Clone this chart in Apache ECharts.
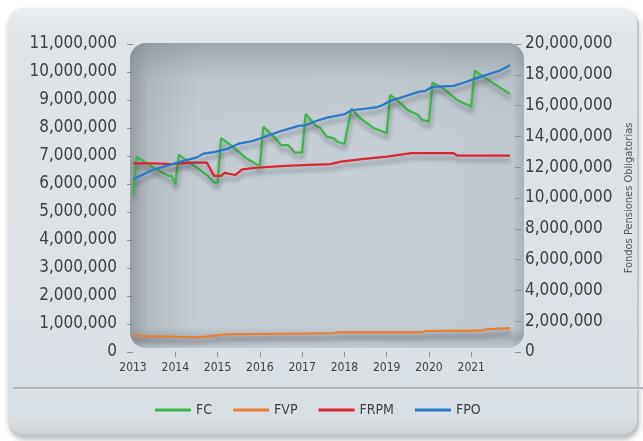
<!DOCTYPE html>
<html>
<head>
<meta charset="utf-8">
<script src="https://cdn.jsdelivr.net/npm/echarts@6/dist/echarts.min.js"></script>
<style>
html,body{margin:0;padding:0;background:#ffffff;}
#chart{width:643px;height:441px;}
</style>
</head>
<body>
<div id="chart"></div>
<script>
// Month index 0 = Jan 2013 ... 107 = Dec 2021
var yearLabels = ['2013','2014','2015','2016','2017','2018','2019','2020','2021'];
var leftTicks = [0,1000000,2000000,3000000,4000000,5000000,6000000,7000000,8000000,9000000,10000000,11000000];
var rightTicks = [0,2000000,4000000,6000000,8000000,10000000,12000000,14000000,16000000,18000000,20000000];
var seriesNames = ['FC','FVP','FRPM','FPO'];

var fcMonths = [0,1,6,10,11,12,13,17,21,23,24,25,28,32,36,37,40,42,44,46,48,49,52,53,55,57,58,60,62,64,68,72,73,76,78,81,82,84,85,88,92,96,97,100,103,107];
var fcValues = [5610000,6980000,6570000,6290000,6290000,6000000,7040000,6680000,6320000,6050000,6050000,7640000,7360000,6930000,6640000,8040000,7690000,7390000,7390000,7120000,7120000,8500000,8070000,8020000,7690000,7630000,7510000,7430000,8700000,8400000,8020000,7810000,9180000,8880000,8640000,8460000,8290000,8230000,9620000,9420000,9000000,8760000,10050000,9780000,9540000,9210000];

var fvpMonths = [0,19,26,57,58,82,83,99,100,107];
var fvpValues = [580000,520000,630000,670000,700000,700000,750000,760000,810000,850000];

var frpmMonths = [0,6,11,16,21,23,25,26,29,31,35,42,50,56,59,65,72,79,91,92,107];
var frpmValues = [6740000,6740000,6710000,6760000,6760000,6290000,6290000,6400000,6320000,6520000,6580000,6640000,6680000,6710000,6800000,6890000,6980000,7100000,7100000,7010000,7010000];

var fpoMonths = [0,6,10,15,18,20,23,27,30,34,38,42,47,49,52,55,60,62,69,71,73,77,81,83,85,91,94,99,104,107];
var fpoValues = [11210000,11860000,12120000,12460000,12620000,12880000,12980000,13210000,13530000,13700000,14030000,14350000,14680000,14720000,15000000,15220000,15440000,15700000,15880000,16050000,16310000,16590000,16890000,16960000,17220000,17280000,17500000,17900000,18260000,18630000];

function zip(ms, vs){ return ms.map(function(m,i){ return [m, vs[i]]; }); }

var FONT = "'Liberation Sans Narrow','DejaVu Sans Condensed','Liberation Sans',sans-serif";
var TXT = '#404040';
var colors = ['#3fb44b','#ec7d33','#da2630','#2a78c6'];

var chart = echarts.init(document.getElementById('chart'), null, {renderer:'canvas'});

function fmt(v){ return Number(v).toLocaleString('en-US'); }

var yearTickValues = yearLabels.map(function(y,i){ return i*12; });

var lineShadow = {shadowColor:'rgba(55,62,70,0.45)', shadowBlur:4, shadowOffsetX:1, shadowOffsetY:5};

var option = {
  animation:false,
  backgroundColor:'#ffffff',
  textStyle:{fontFamily:FONT},
  graphic:[
    {type:'rect', z:-20, shape:{x:9,y:10,width:630,height:428,r:16},
      style:{fill:'#c3c8cd', shadowBlur:6, shadowOffsetY:2, shadowColor:'rgba(0,0,0,0.25)'}},
    {type:'rect', z:-19, shape:{x:8,y:8,width:629,height:426,r:15},
      style:{fill:new echarts.graphic.LinearGradient(0,0,0,1,[
        {offset:0,color:'#ebeef1'},{offset:0.06,color:'#dfe4e8'},{offset:0.96,color:'#d9e0e5'},{offset:1,color:'#cfd4d9'}])}},
    {type:'line', z:-18, shape:{x1:13,y1:388,x2:643,y2:388}, style:{stroke:'#b3b8bd', lineWidth:2}},
    {type:'line', z:-18, shape:{x1:13,y1:389.8,x2:643,y2:389.8}, style:{stroke:'#e6eaed', lineWidth:1}},
    {type:'rect', z:-17, shape:{x:130,y:43,width:394,height:305,r:16},
      style:{fill:new echarts.graphic.LinearGradient(0,0,1,0,[
        {offset:0,color:'#979ea5'},{offset:0.05,color:'#b4bcc2'},{offset:0.18,color:'#c4cdd3'},{offset:0.6,color:'#c5cfd5'},{offset:0.97,color:'#bec8ce'},{offset:1,color:'#a9b0b6'}])}},
    {type:'rect', z:-16, shape:{x:130,y:43,width:394,height:305,r:16},
      style:{fill:new echarts.graphic.LinearGradient(0,0,0,1,[
        {offset:0,color:'rgba(110,118,126,0.45)'},{offset:0.12,color:'rgba(130,138,146,0.12)'},{offset:0.3,color:'rgba(130,138,146,0)'},
        {offset:0.93,color:'rgba(120,128,136,0)'},{offset:0.965,color:'rgba(100,108,116,0.28)'},{offset:1,color:'rgba(190,198,204,0.3)'}])}}
  ],
  grid:{left:133, right:121, top:44, bottom:89, containLabel:false},
  legend:{
    data:seriesNames, left:150, top:398, icon:'rect', itemWidth:36, itemHeight:3, itemGap:21,
    textStyle:{fontFamily:FONT, fontSize:14, color:TXT}
  },
  xAxis:{
    type:'value', min:0, max:107, interval:12,
    axisLine:{show:false}, splitLine:{show:false},
    axisTick:{show:true, length:5, inside:false, lineStyle:{color:'#8c9196'}, customValues:yearTickValues.slice(1)},
    axisLabel:{show:true, margin:10, fontFamily:FONT, fontSize:12, color:TXT, customValues:yearTickValues,
      formatter:function(v){ var k=Math.round(v/12); return yearLabels[k]||''; }}
  },
  yAxis:[
    {type:'value', min:leftTicks[0], max:leftTicks[leftTicks.length-1], interval:1000000, position:'left', offset:4,
      axisLine:{show:false}, splitLine:{show:false},
      axisTick:{show:true, length:6, lineStyle:{color:'#8c9196'}},
      axisLabel:{margin:12, fontFamily:FONT, fontSize:17, color:TXT, formatter:fmt}},
    {type:'value', min:rightTicks[0], max:rightTicks[rightTicks.length-1], interval:2000000, position:'right', offset:5,
      name:'Fondos Pensiones Obligatorias', nameLocation:'middle', nameRotate:90, nameGap:109,
      nameTextStyle:{fontFamily:FONT, fontSize:11, color:'#555'},
      axisLine:{show:false}, splitLine:{show:false},
      axisTick:{show:true, length:6, lineStyle:{color:'#8c9196'}},
      axisLabel:{margin:10, fontFamily:FONT, fontSize:17, color:TXT, formatter:fmt}}
  ],
  series:[
    {name:'FC', type:'line', yAxisIndex:0, symbol:'none', data:zip(fcMonths,fcValues),
      lineStyle:Object.assign({width:2.2, color:colors[0]}, lineShadow), itemStyle:{color:colors[0]}},
    {name:'FVP', type:'line', yAxisIndex:0, symbol:'none', data:zip(fvpMonths,fvpValues),
      lineStyle:Object.assign({width:2.2, color:colors[1]}, lineShadow), itemStyle:{color:colors[1]}},
    {name:'FRPM', type:'line', yAxisIndex:0, symbol:'none', data:zip(frpmMonths,frpmValues),
      lineStyle:Object.assign({width:2.2, color:colors[2]}, lineShadow), itemStyle:{color:colors[2]}},
    {name:'FPO', type:'line', yAxisIndex:1, symbol:'none', data:zip(fpoMonths,fpoValues),
      lineStyle:Object.assign({width:2.2, color:colors[3]}, lineShadow), itemStyle:{color:colors[3]}}
  ]
};
chart.setOption(option);
</script>
</body>
</html>
